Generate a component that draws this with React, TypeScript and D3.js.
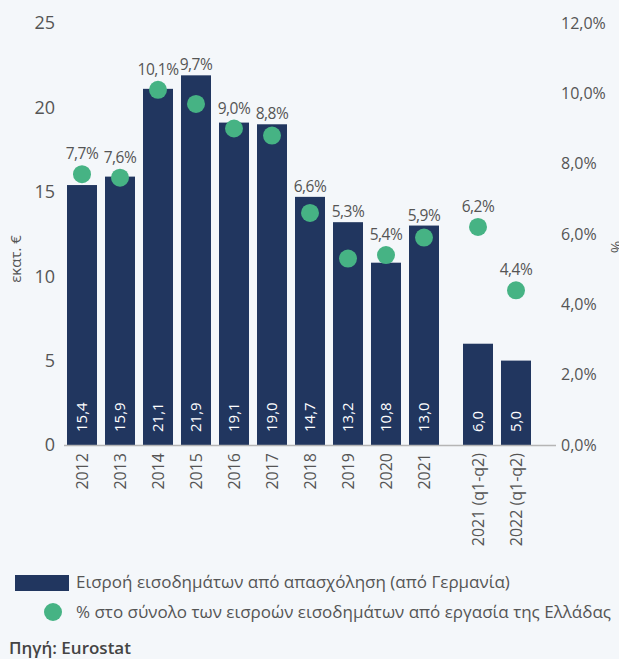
import React from "react";
import * as d3 from "d3";

const categories = ["2012", "2013", "2014", "2015", "2016", "2017", "2018", "2019", "2020", "2021", "2021 (q1-q2)", "2022 (q1-q2)"];
const inflows = [15.4, 15.9, 21.1, 21.9, 19.1, 19.0, 14.7, 13.2, 10.8, 13.0, 6.0, 5.0];
const shares = [7.7, 7.6, 10.1, 9.7, 9.0, 8.8, 6.6, 5.3, 5.4, 5.9, 6.2, 4.4];
const leftTicks = [0, 5, 10, 15, 20, 25];
const rightTicks = [0, 2, 4, 6, 8, 10, 12];
const splitCategories = ["2021 (q1-q2)", "2022 (q1-q2)"];

const W = 619;
const H = 659;
const FONT = "'Open Sans', 'Noto Sans', sans-serif";
const TXT = "#555555";
const BAR = "#21365f";
const DOT = "#46b384";

const fmt = (v: number, d: number) => v.toFixed(d).replace(".", ",");

export default function App() {
  const y = d3.scaleLinear().domain([0, 25]).range([445, 23]);
  const yr = d3.scaleLinear().domain([0, 12]).range([445, 23]);
  const band = d3
    .scaleBand<string>()
    .domain(categories)
    .range([63.2, 518.8])
    .paddingInner(8 / 38)
    .paddingOuter(0.1);
  const gap = 16;
  const xl = (c: string) => (band(c) as number) + (splitCategories.includes(c) ? gap : 0);
  const bw = band.bandwidth();
  const r = 9;

  return (
    <svg
      width={W}
      height={H}
      style={{ position: "absolute", left: 0, top: 0, background: "#f4f7fa" }}
      fontFamily={FONT}
    >
      <rect x={0} y={0} width={W} height={H} fill="#f4f7fa" />
      {/* left axis */}
      {leftTicks.map((t) => (
        <text key={"l" + t} x={55} y={y(t)} dy="0.36em" textAnchor="end" fontSize={18} fill={TXT}>
          {t}
        </text>
      ))}
      <text
        transform={`translate(21,${(y(0) + y(25)) / 2 + 25}) rotate(-90)`}
        textAnchor="middle"
        fontSize={15}
        fill={TXT}
      >
        εκατ. €
      </text>
      {/* right axis */}
      {rightTicks.map((t) => (
        <text key={"r" + t} x={561} y={yr(t)} dy="0.36em" textAnchor="start" fontSize={16} fill={TXT}>
          {fmt(t, 1)}%
        </text>
      ))}
      <text
        transform={`translate(611,${(yr(0) + yr(12)) / 2 + 13}) rotate(90)`}
        textAnchor="middle"
        fontSize={15}
        fill={TXT}
      >
        %
      </text>
      {/* bars */}
      {categories.map((c, i) => (
        <rect key={"b" + c} x={xl(c)} y={y(inflows[i])} width={bw} height={y(0) - y(inflows[i])} fill={BAR} />
      ))}
      {/* baseline */}
      <line x1={64} x2={556} y1={y(0) + 0.5} y2={y(0) + 0.5} stroke="#b5b5b5" strokeWidth={1.5} />
      {/* bar labels */}
      {categories.map((c, i) => (
        <text
          key={"bl" + c}
          transform={`translate(${xl(c) + bw / 2},${y(0) - 13}) rotate(-90)`}
          dy="0.36em"
          textAnchor="start"
          fontSize={15}
          fill="#ffffff"
        >
          {fmt(inflows[i], 1)}
        </text>
      ))}
      {/* dots */}
      {categories.map((c, i) => (
        <circle key={"d" + c} cx={xl(c) + bw / 2} cy={yr(shares[i])} r={r} fill={DOT} />
      ))}
      {/* dot labels */}
      {categories.map((c, i) => {
        const ly = Math.min(y(inflows[i]) - 5, yr(shares[i]) - 15);
        return (
          <text
            key={"dl" + c}
            x={xl(c) + bw / 2}
            y={ly}
            textAnchor="middle"
            fontSize={15.5}
            letterSpacing={-0.5}
            fill={TXT}
          >
            {fmt(shares[i], 1)}%
          </text>
        );
      })}
      {/* x labels */}
      {categories.map((c) => (
        <text
          key={"x" + c}
          transform={`translate(${xl(c) + bw / 2},${y(0) + 8}) rotate(-90)`}
          dy="0.36em"
          textAnchor="end"
          fontSize={16}
          fill={TXT}
        >
          {c}
        </text>
      ))}
      {/* legend */}
      <rect x={15} y={575} width={54} height={16} fill={BAR} />
      <text x={76} y={588} fontSize={17} fill={TXT}>
        Εισροή εισοδημάτων από απασχόληση (από Γερμανία)
      </text>
      <circle cx={53} cy={612} r={9} fill={DOT} />
      <text x={76} y={618} fontSize={17} fill={TXT}>
        % στο σύνολο των εισροών εισοδημάτων από εργασία της Ελλάδας
      </text>
      <text x={9} y={654} fontSize={17} fontWeight={600} fill="#444444">
        Πηγή: Eurostat
      </text>
    </svg>
  );
}
